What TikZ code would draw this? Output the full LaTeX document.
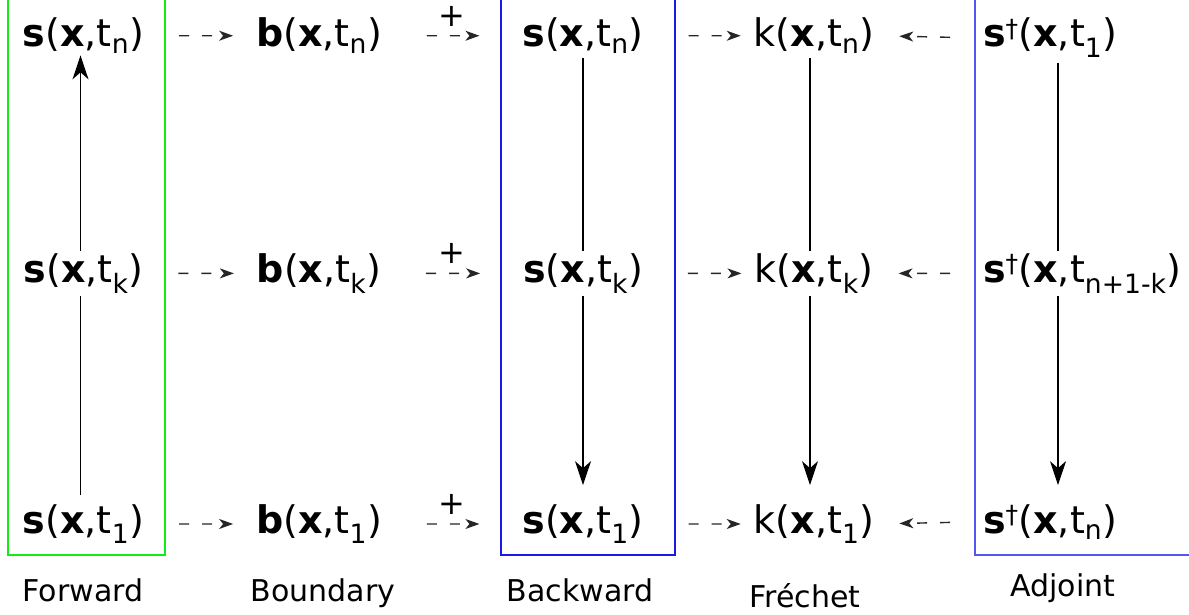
\documentclass[tikz,border=0pt]{standalone}
\usepackage{fontspec}
\setmainfont{DejaVu Sans}
\usetikzlibrary{arrows.meta,calc}
\definecolor{fgreen}{RGB}{20,235,20}
\definecolor{bblue}{RGB}{25,25,235}
\definecolor{ablue}{RGB}{85,85,245}
\tikzset{
  var/.style={inner sep=2pt, outer sep=0pt, font=\fontsize{38}{40}\selectfont, anchor=base},
  varw/.style={var, anchor=base west},
  lab/.style={inner sep=0pt, font=\fontsize{30}{32}\selectfont, anchor=base},
  flow/.style={line width=1.4pt, -{Stealth[length=24pt,width=16pt,inset=7pt]}},
  plainline/.style={line width=1.4pt},
  dasharrow/.style={line width=1.4pt, black!85, dash pattern=on 10pt off 13pt,
    -{Stealth[length=14pt,width=10pt,inset=4pt]}},
  plus/.style={font=\fontsize{32}{34}\selectfont, inner sep=0pt, black},
  frame/.style={line width=1.4pt}
}
\newcommand{\sv}[1]{\textbf{s}(\textbf{x},t\textsubscript{#1})}
\newcommand{\bv}[1]{\textbf{b}(\textbf{x},t\textsubscript{#1})}
\newcommand{\kv}[1]{k(\textbf{x},t\textsubscript{#1})}
\newcommand{\av}[1]{\textbf{s}\textsuperscript{\fontsize{25}{25}\selectfont †}(\textbf{x},t\textsubscript{#1})}
\begin{document}
\begin{tikzpicture}[x=1pt,y=-1pt]
\useasboundingbox (0,0) rectangle (1189,615);
\clip (0,0) rectangle (1189,615);

% frames
\draw[frame, fgreen] (8,-10) rectangle (165,555);
\draw[frame, bblue] (501,-10) rectangle (675,555);
\draw[frame, ablue] (975,-10) rectangle (1200,555);

% column coordinates for vertical connectors
\coordinate (cF) at (80.5,0);
\coordinate (cW) at (583,0);
\coordinate (cK) at (810,0);
\coordinate (cA) at (1058,0);

% Forward
\node[var] (F3) at (83.5,47) {\sv{n}};
\node[var] (Fk) at (83.5,282) {\sv{k}};
\node[var] (F1) at (83.5,533) {\sv{1}};
% Boundary
\node[var] (B3) at (319,47) {\bv{n}};
\node[var] (Bk) at (319,282) {\bv{k}};
\node[var] (B1) at (319,533) {\bv{1}};
% Backward
\node[var] (W3) at (583,47) {\sv{n}};
\node[var] (Wk) at (583,282) {\sv{k}};
\node[var] (W1) at (583,533) {\sv{1}};
% Frechet
\node[var] (K3) at (814,47) {\kv{n}};
\node[var] (Kk) at (814,282) {\kv{k}};
\node[var] (K1) at (814,533) {\kv{1}};
% Adjoint
\node[varw] (A3) at (981,47) {\av{1}};
\node[varw] (Ak) at (981,282) {\av{n+1-k}};
\node[varw] (A1) at (981,533) {\av{n}};

% labels
\node[lab] (lF) at (83,601) {Forward};
\node[lab] (lB) at (323,601) {Boundary};
\node[lab] (lW) at (580,601) {Backward};
\node[lab] (lK) at (805,607) {Fréchet};
\node[lab] (lA) at (1063,596) {Adjoint};

% vertical connectors
\draw[plainline, shorten <=7pt] (F1.north -| cF) -- (Fk.south -| cF);
\draw[flow] (Fk.north -| cF) -- (F3.south -| cF);
\draw[plainline, shorten <=3pt] (W3.south -| cW) -- (Wk.north -| cW);
\draw[flow, shorten >=17pt] (Wk.south -| cW) -- (W1.north -| cW);
\draw[plainline, shorten <=3pt] (K3.south -| cK) -- (Kk.north -| cK);
\draw[flow, shorten >=17pt] (Kk.south -| cK) -- (K1.north -| cK);
\draw[plainline, shorten <=3pt] (A3.south -| cA) -- (Ak.north -| cA);
\draw[flow, shorten >=17pt] (Ak.south -| cA) -- (A1.north -| cA);

% dashed arrows
\foreach \r in {3,k,1}{
  \draw[dasharrow, shorten <=33pt, shorten >=21pt] (F\r.east) -- (B\r.west);
  \draw[dasharrow, shorten <=43pt, shorten >=41pt] (B\r.east) -- (W\r.west)
     node[plus, pos=0.5, above=9pt] (p\r) {+};
  \draw[dasharrow, shorten <=43pt, shorten >=11pt] (W\r.east) -- (K\r.west);
  \draw[dasharrow, shorten <=31pt, shorten >=23pt] (A\r.west) -- (K\r.east);
}
\end{tikzpicture}
\end{document}
